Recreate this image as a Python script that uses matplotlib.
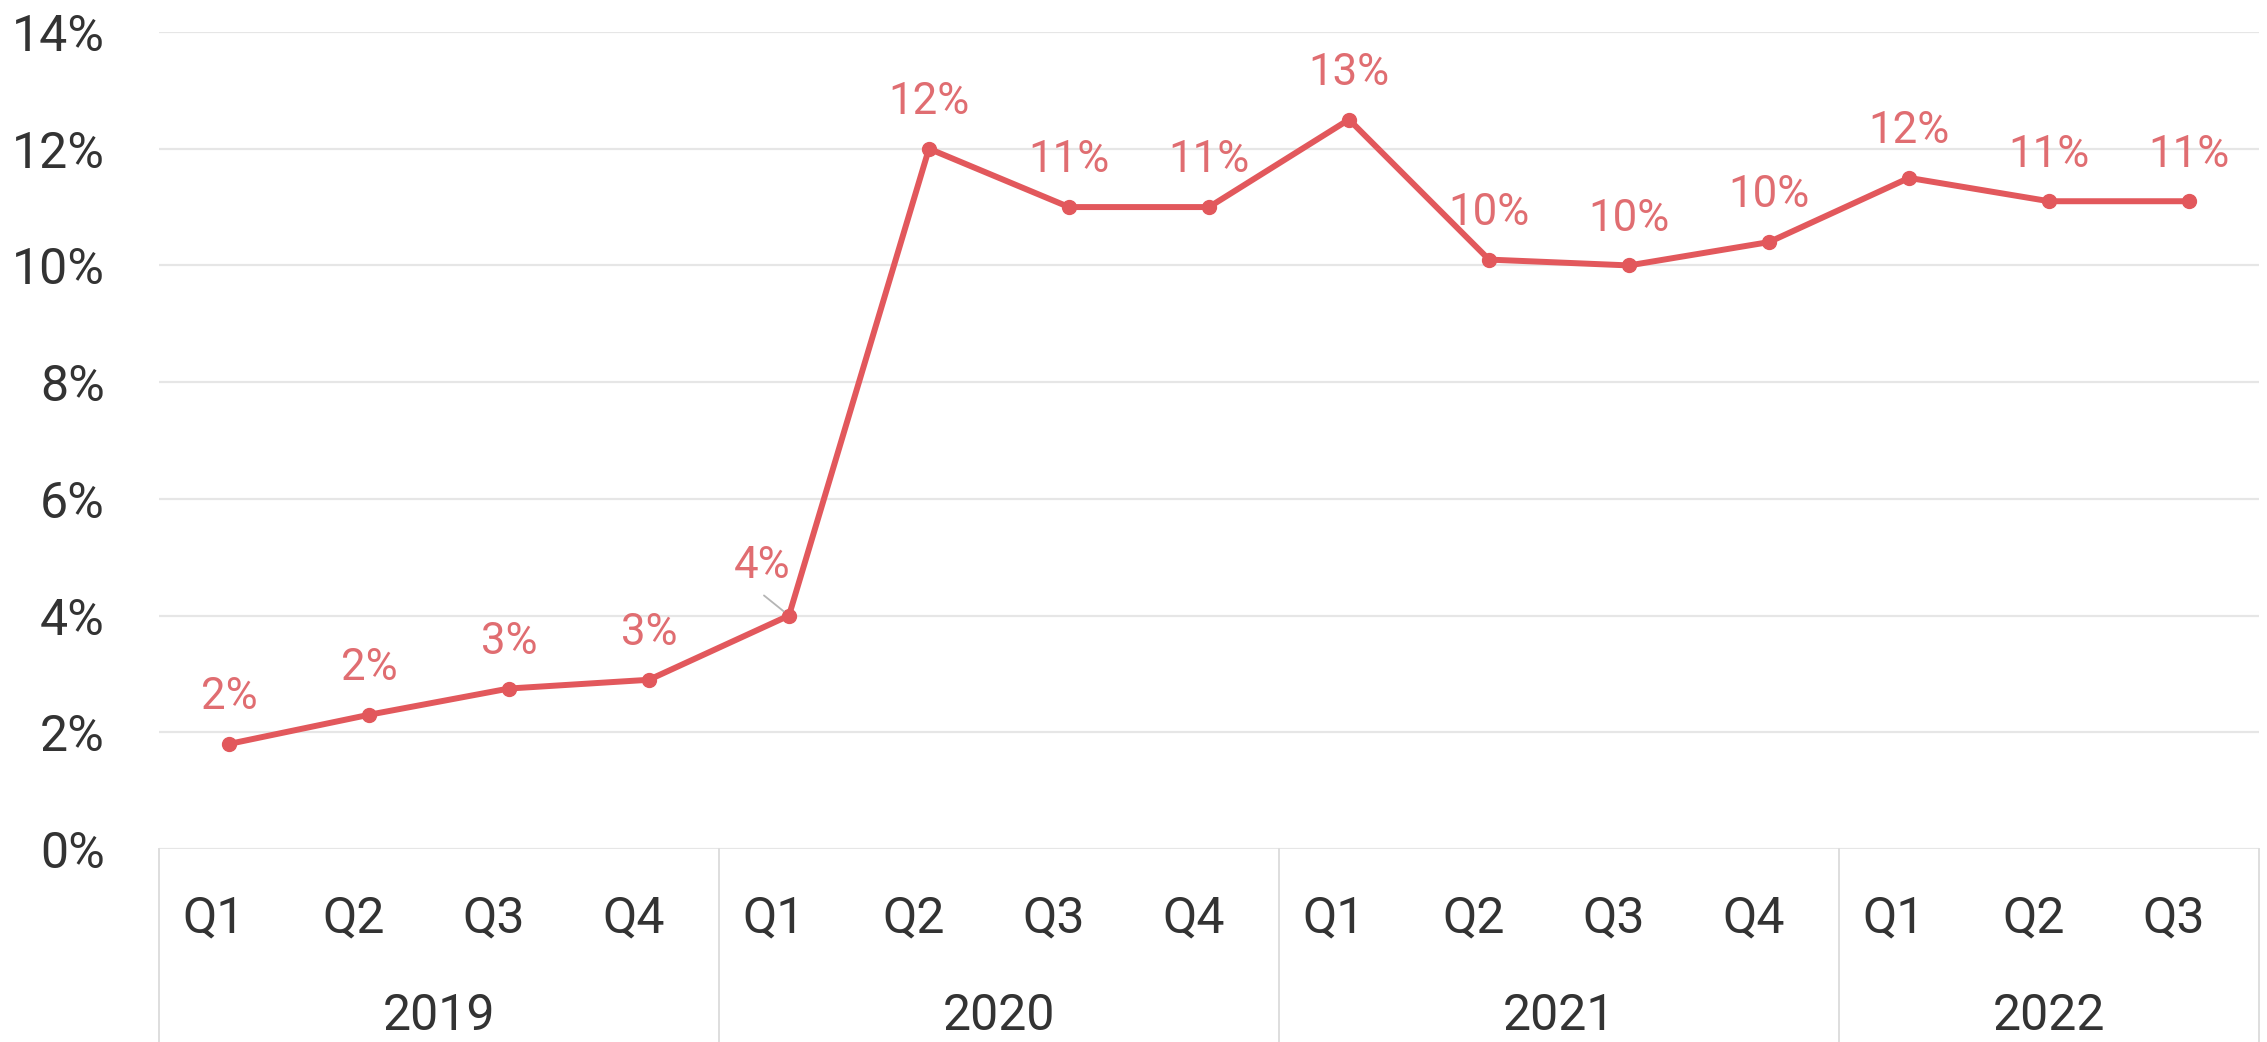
import math
import matplotlib
matplotlib.use("Agg")
import matplotlib.pyplot as plt
import matplotlib.transforms as mtransforms


years = ["2019", "2020", "2021", "2022"]
quarters = ["Q1", "Q2", "Q3", "Q4",
            "Q1", "Q2", "Q3", "Q4",
            "Q1", "Q2", "Q3", "Q4",
            "Q1", "Q2", "Q3"]
year_of = [0, 0, 0, 0, 1, 1, 1, 1, 2, 2, 2, 2, 3, 3, 3]
share = [1.8, 2.3, 2.75, 2.9, 4.0, 12.0, 11.0, 11.0,
         12.5, 10.1, 10.0, 10.4, 11.5, 11.1, 11.1]
y_ticks = [0, 2, 4, 6, 8, 10, 12, 14]

LINE = "#e2585c"
LABEL = "#e06d71"
TEXT = "#333333"
GRID = "#e6e6e6"
SEP = "#dedede"

plt.rcParams['font.family'] = ['Roboto', 'DejaVu Sans']


def pct_label(v):
    return f"{math.floor(v + 0.5)}%"


fig = plt.figure(figsize=(22.67, 10.42), dpi=100)
ax = fig.add_axes([0.0701, 0.1852, 0.9264, 0.7841])

x = list(range(len(share)))
ax.plot(x, share, color=LINE, lw=4.3, marker="o", ms=10, zorder=3, clip_on=False)

ax.set_xlim(-0.5, len(share) - 0.5)
ax.set_ylim(0, 14)
ax.set_yticks(y_ticks)
ax.set_yticklabels([f"{t}%" for t in y_ticks], fontsize=36, color=TEXT)
ax.tick_params(axis="y", length=0, pad=39)
ax.set_xticks([])
ax.grid(axis="y", color=GRID, lw=1.6)
ax.set_axisbelow(True)
for s in ax.spines.values():
    s.set_visible(False)

# value labels above each point
for i, v in enumerate(share):
    if i == 4:
        # this one is pushed up-left with a short leader line
        ax.annotate(pct_label(v), (i, v), xytext=(-19, 27), textcoords="offset points",
                    ha="center", va="baseline", fontsize=31.5, color=LABEL)
        ax.annotate("", (i, v), xytext=(-18, 14.5), textcoords="offset points",
                    arrowprops=dict(arrowstyle="-", color="#b5b5b5", lw=1.3,
                                    shrinkA=0, shrinkB=5))
        continue
    ax.annotate(pct_label(v), (i, v), xytext=(0, 25), textcoords="offset points",
                ha="center", va="baseline", fontsize=31.5, color=LABEL)

# grouped category axis: quarters on top row, years below
trans = mtransforms.blended_transform_factory(ax.transData, ax.transAxes)
for i, q in enumerate(quarters):
    ax.annotate(q, (i, -0.1016), xycoords=trans, xytext=(-11, 0), textcoords="offset points",
                ha="center", va="baseline", fontsize=36, color=TEXT, annotation_clip=False)

bounds = [-0.5]
for k, yr in enumerate(years):
    idx = [i for i, g in enumerate(year_of) if g == k]
    center = (idx[0] + idx[-1]) / 2
    ax.text(center, -0.2215, yr, transform=trans, ha="center", va="baseline",
            fontsize=36, color=TEXT)
    bounds.append(idx[-1] + 0.5)

for b in bounds:
    ax.plot([b, b], [0, -0.3], transform=trans, color=SEP, lw=1.4, clip_on=False)

fig.savefig("out.png", dpi=100, facecolor="white")
